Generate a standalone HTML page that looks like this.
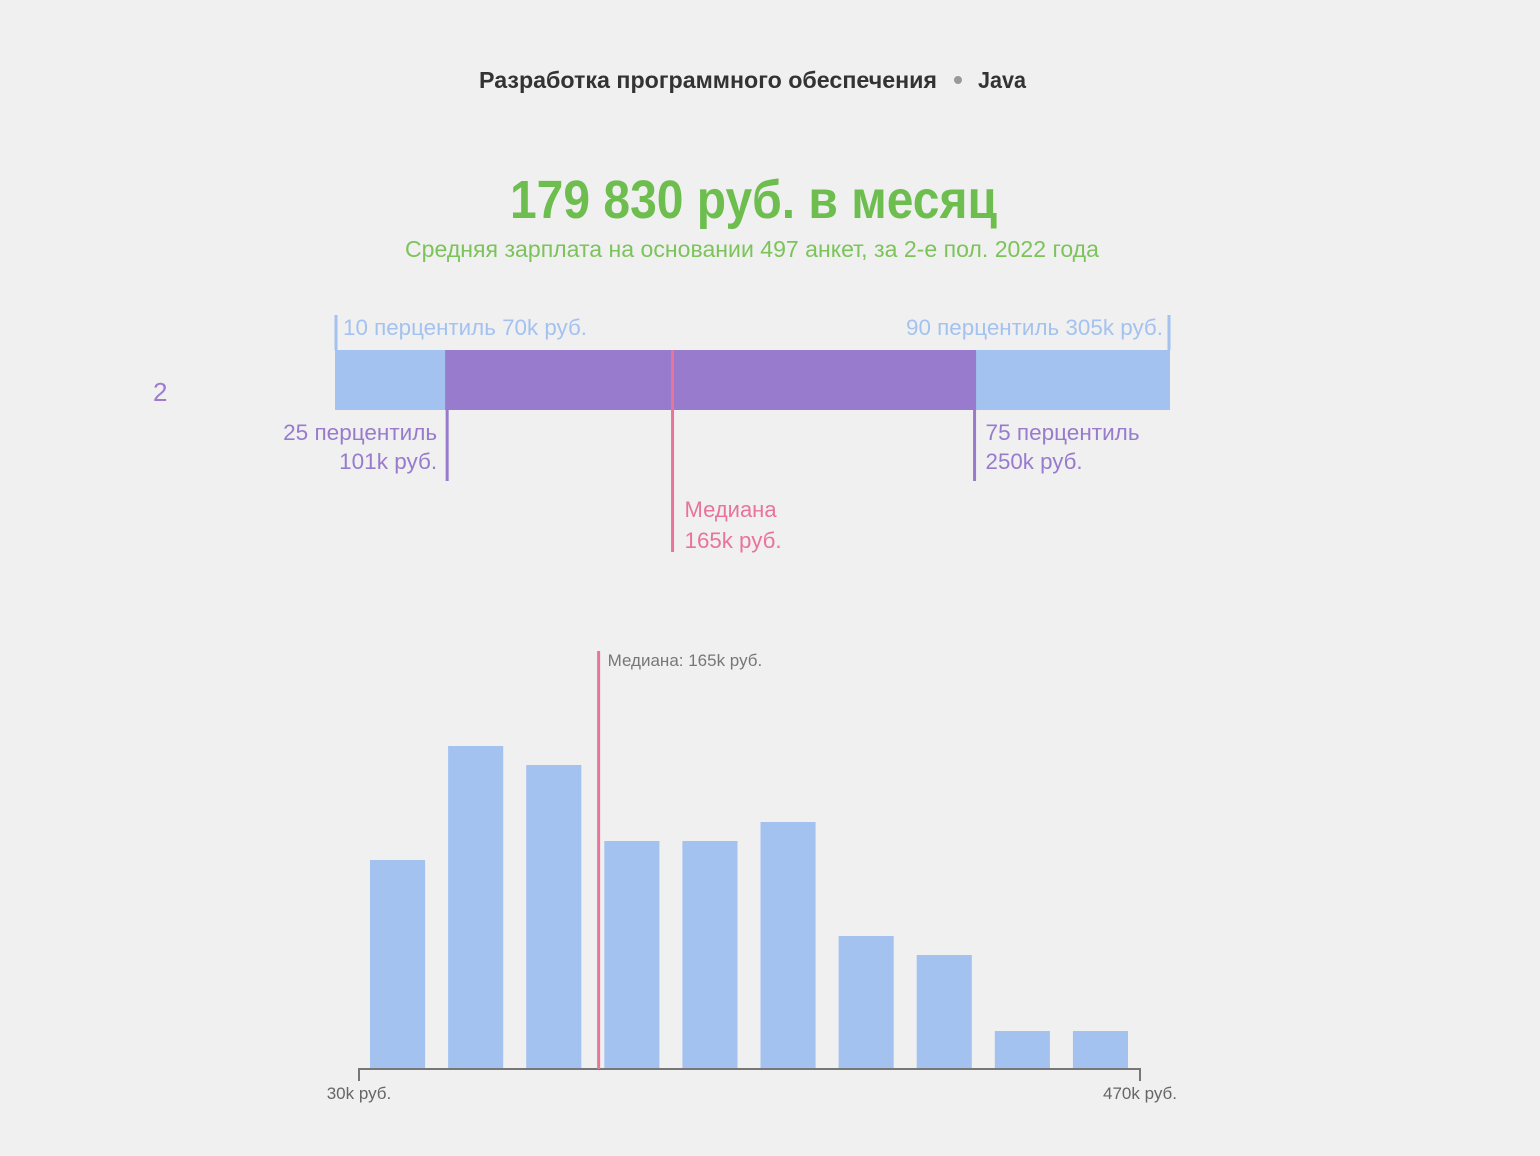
<!DOCTYPE html>
<html><head><meta charset="utf-8"><style>
html,body{margin:0;padding:0;background:#f0f0f0;}
svg{display:block;font-family:"Liberation Sans",sans-serif;}
</style></head><body>
<svg width="1540" height="1156" viewBox="0 0 1540 1156">
<rect width="1540" height="1156" fill="#f0f0f0"/>
<text x="479" y="88" font-size="23" font-weight="bold" fill="#333" textLength="458" lengthAdjust="spacingAndGlyphs">Разработка программного обеспечения</text>
<circle cx="958" cy="80" r="4" fill="#999"/>
<text x="978" y="88" font-size="23" font-weight="bold" fill="#333" textLength="48" lengthAdjust="spacingAndGlyphs">Java</text>
<text x="510" y="218" font-size="54" font-weight="bold" fill="#6dbd4f" textLength="487" lengthAdjust="spacingAndGlyphs">179 830 руб. в месяц</text>
<text x="405" y="257" font-size="23" fill="#7cc35a" textLength="694" lengthAdjust="spacingAndGlyphs">Средняя зарплата на основании 497 анкет, за 2-е пол. 2022 года</text>
<text x="153" y="401" font-size="26" fill="#9b7dd0">2</text>
<g id="pct"></g>
<g id="hist"></g>
</svg>
<script>
const pctLabels=['10','25','50','75','90'];
const pctValues=[70,101,165,250,305];
const histBinStart=30, histBinEnd=470;
const histCounts=[11,17,16,12,12,13,7,6,2,2];
const histMedian=165;
const axisTickLabels=['30k руб.','470k руб.'];

const NS='http://www.w3.org/2000/svg';
function mk(tag,attrs,parent,text){const e=document.createElementNS(NS,tag);for(const k in attrs)e.setAttribute(k,attrs[k]);if(text!==undefined)e.textContent=text;parent.appendChild(e);return e;}

// percentile bar
const pg=document.getElementById('pct');
const px0=335, px1=1170;
const pxs=v=>px0+(v-pctValues[0])/(pctValues[4]-pctValues[0])*(px1-px0);
const barTop=350, barBot=410;
let r=mk('rect',{x:pxs(pctValues[0]),y:barTop,width:pxs(pctValues[4])-pxs(pctValues[0]),height:barBot-barTop,fill:'#a4c2f0'},pg);


r=mk('rect',{x:pxs(pctValues[1]),y:barTop,width:pxs(pctValues[3])-pxs(pctValues[1]),height:barBot-barTop,fill:'#987bcd'},pg);


let l;
l=mk('line',{x1:pxs(pctValues[0])+1,x2:pxs(pctValues[0])+1,y1:315,y2:barTop,stroke:'#a4c2f0','stroke-width':3},pg);


l=mk('line',{x1:pxs(pctValues[4])-1,x2:pxs(pctValues[4])-1,y1:315,y2:barTop,stroke:'#a4c2f0','stroke-width':3},pg);


l=mk('line',{x1:pxs(pctValues[1])+2,x2:pxs(pctValues[1])+2,y1:barTop,y2:481,stroke:'#987bcd','stroke-width':3},pg);


l=mk('line',{x1:pxs(pctValues[3]),x2:pxs(pctValues[3]),y1:barTop,y2:481,stroke:'#987bcd','stroke-width':3},pg);


l=mk('line',{x1:pxs(pctValues[2]),x2:pxs(pctValues[2]),y1:barTop,y2:552,stroke:'#e8749a','stroke-width':3},pg);


function lab(x,y,txt,fill,anchor,len,name){const t=mk('text',{x:x,y:y,'font-size':22,fill:fill,'text-anchor':anchor,textLength:len,lengthAdjust:'spacingAndGlyphs'},pg,txt);}
lab(pxs(pctValues[0])+8,335,pctLabels[0]+' перцентиль '+pctValues[0]+'k руб.','#a4c2f0','start',244,'p10-label');
lab(pxs(pctValues[4])-7,335,pctLabels[4]+' перцентиль '+pctValues[4]+'k руб.','#a4c2f0','end',257,'p90-label');
lab(pxs(pctValues[1])-8,440,pctLabels[1]+' перцентиль','#987bcd','end',154,'p25-label');
lab(pxs(pctValues[1])-8,469,pctValues[1]+'k руб.','#987bcd','end',98,'p25-value');
lab(pxs(pctValues[3])+11,440,pctLabels[3]+' перцентиль','#987bcd','start',154,'p75-label');
lab(pxs(pctValues[3])+11,469,pctValues[3]+'k руб.','#987bcd','start',97,'p75-value');
lab(pxs(pctValues[2])+12,517,'Медиана','#e8749a','start',92,'median-label');
lab(pxs(pctValues[2])+12,548,pctValues[2]+'k руб.','#e8749a','start',97,'median-value');

// histogram
const hg=document.getElementById('hist');
const hx0=359, hx1=1140, baseY=1069, unitPx=19;
const hx=v=>hx0+(v-histBinStart)/(histBinEnd-histBinStart)*(hx1-hx0);
const hy=c=>baseY-c*unitPx;
const binW=(histBinEnd-histBinStart)/histCounts.length;
histCounts.forEach((c,i)=>{
  const xa=hx(histBinStart+i*binW), xb=hx(histBinStart+(i+1)*binW);
  const b=mk('rect',{x:xa+11,y:hy(c),width:(xb-xa)-23,height:baseY-hy(c),fill:'#a4c2f0'},hg);
  
  
});
const ax=mk('path',{d:`M${hx0},${baseY+12}V${baseY}H${hx1}V${baseY+12}`,fill:'none',stroke:'#777','stroke-width':2},hg);


[hx0,hx1].forEach((x,i)=>{
  const t=mk('text',{x:x,y:1099,'font-size':17,fill:'#666','text-anchor':'middle'},hg,axisTickLabels[i]);
  
  
});
const ml=mk('line',{x1:hx(histMedian),x2:hx(histMedian),y1:651,y2:baseY,stroke:'#e8749a','stroke-width':3},hg);


const mt=mk('text',{x:hx(histMedian)+9,y:666,'font-size':17,fill:'#777'},hg,'Медиана: '+histMedian+'k руб.');


</script>
</body></html>
